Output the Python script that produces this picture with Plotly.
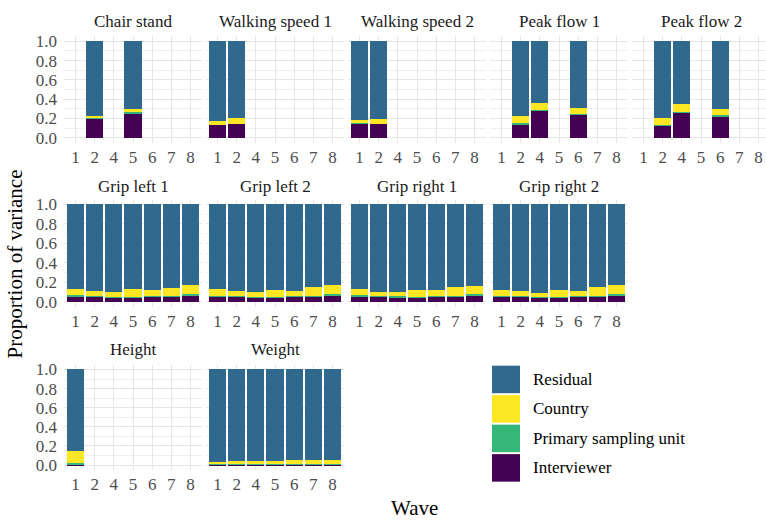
import plotly.graph_objects as go

# Waves shown on every facet (wave 3 was not fielded)
waves = ["1", "2", "4", "5", "6", "7", "8"]

measures = ["Chair stand", "Walking speed 1", "Walking speed 2", "Peak flow 1", "Peak flow 2",
            "Grip left 1", "Grip left 2", "Grip right 1", "Grip right 2",
            "Height", "Weight"]

components = ["Interviewer", "Primary sampling unit", "Country", "Residual"]
comp_colors = {"Interviewer": "#440154", "Primary sampling unit": "#35B779",
               "Country": "#FDE725", "Residual": "#31688E"}

N = None
interviewer = {
    "Chair stand":     [N, .198, N, .248, N, N, N],
    "Walking speed 1": [.130, .140, N, N, N, N, N],
    "Walking speed 2": [.145, .138, N, N, N, N, N],
    "Peak flow 1":     [N, .137, .276, N, .238, N, N],
    "Peak flow 2":     [N, .119, .260, N, .218, N, N],
    "Grip left 1":     [.061, .054, .044, .044, .054, .054, .068],
    "Grip left 2":     [.058, .054, .047, .047, .054, .054, .068],
    "Grip right 1":    [.060, .054, .051, .047, .058, .058, .071],
    "Grip right 2":    [.058, .054, .047, .047, .054, .054, .068],
    "Height":          [.006, N, N, N, N, N, N],
    "Weight":          [.008, .008, .008, .008, .008, .008, .008],
}
psu = {
    "Chair stand":     [N, .010, N, .015, N, N, N],
    "Walking speed 1": [.005, .005, N, N, N, N, N],
    "Walking speed 2": [.004, .005, N, N, N, N, N],
    "Peak flow 1":     [N, .015, .012, N, .012, N, N],
    "Peak flow 2":     [N, .012, .012, N, .015, N, N],
    "Grip left 1":     [.007, .007, .007, .007, .007, .007, .013],
    "Grip left 2":     [.007, .007, .007, .007, .007, .010, .010],
    "Grip right 1":    [.007, .007, .007, .007, .007, .007, .010],
    "Grip right 2":    [.007, .007, .007, .007, .007, .007, .010],
    "Height":          [.012, N, N, N, N, N, N],
    "Weight":          [.008, .008, .008, .008, .008, .008, .008],
}
country = {
    "Chair stand":     [N, .022, N, .030, N, N, N],
    "Walking speed 1": [.035, .055, N, N, N, N, N],
    "Walking speed 2": [.038, .050, N, N, N, N, N],
    "Peak flow 1":     [N, .078, .070, N, .062, N, N],
    "Peak flow 2":     [N, .077, .076, N, .060, N, N],
    "Grip left 1":     [.068, .051, .049, .078, .058, .085, .092],
    "Grip left 2":     [.064, .051, .046, .068, .054, .092, .095],
    "Grip right 1":    [.063, .040, .042, .071, .055, .085, .085],
    "Grip right 2":    [.055, .049, .041, .068, .051, .095, .095],
    "Height":          [.125, N, N, N, N, N, N],
    "Weight":          [.018, .025, .029, .029, .036, .036, .032],
}
residual = {
    "Chair stand":     [N, .770, N, .707, N, N, N],
    "Walking speed 1": [.830, .800, N, N, N, N, N],
    "Walking speed 2": [.813, .807, N, N, N, N, N],
    "Peak flow 1":     [N, .770, .642, N, .688, N, N],
    "Peak flow 2":     [N, .792, .652, N, .707, N, N],
    "Grip left 1":     [.864, .888, .900, .871, .881, .854, .827],
    "Grip left 2":     [.871, .888, .900, .878, .885, .844, .827],
    "Grip right 1":    [.870, .899, .900, .875, .880, .850, .834],
    "Grip right 2":    [.880, .890, .905, .878, .888, .844, .827],
    "Height":          [.857, N, N, N, N, N, N],
    "Weight":          [.966, .959, .955, .955, .948, .948, .952],
}
values = {"Interviewer": interviewer, "Primary sampling unit": psu,
          "Country": country, "Residual": residual}

legend_order = ["Residual", "Country", "Primary sampling unit", "Interviewer"]

# ---- layout geometry (pixels) ----
W, H = 766, 524
col_left = [64, 206, 348, 490, 632]
panel_w = 138
px_per_unit = panel_w / 7.2
# (top, bottom) of each facet row in pixels
row_box = [(33, 141), (199, 308), (367, 474)]
strip_y = [18, 186, 352]

FONT = "Liberation Serif, Times New Roman, Times, serif"
GRID = "#E6E6E6"
GRID_MINOR = "#F0F0F0"


def fx(px):
    return px / W


def fy(py):
    return 1 - py / H


fig = go.Figure()
annotations = []
layout_axes = {}

for i, m in enumerate(measures):
    if i < 5:
        r, c = 0, i
    elif i < 9:
        r, c = 1, i - 5
    else:
        r, c = 2, i - 9
    k = i + 1
    xa = "x" if k == 1 else f"x{k}"
    ya = "y" if k == 1 else f"y{k}"
    xkey = "xaxis" if k == 1 else f"xaxis{k}"
    ykey = "yaxis" if k == 1 else f"yaxis{k}"

    left = col_left[c]
    right = min(left + panel_w, W)
    top, bottom = row_box[r]
    x_hi = -0.6 + (right - left) / px_per_unit

    for comp in components:
        fig.add_trace(go.Bar(
            x=waves, y=values[comp][m], xaxis=xa, yaxis=ya,
            marker=dict(color=comp_colors[comp], line=dict(width=0)),
            width=0.9, showlegend=False, name=comp,
        ))

    layout_axes[xkey] = dict(
        domain=[fx(left), fx(right)], anchor=ya, type="category",
        categoryorder="array", categoryarray=waves, range=[-0.6, x_hi],
        tickmode="array", tickvals=waves, ticktext=waves,
        showgrid=True, gridcolor=GRID, gridwidth=1.3, zeroline=False,
        showline=False, ticks="", ticklabelstandoff=2,
        tickfont=dict(family=FONT, size=17, color="#4D4D4D"),
        fixedrange=True,
    )
    layout_axes[ykey] = dict(
        domain=[fy(bottom), fy(top)], anchor=xa, range=[-0.05, 1.05],
        tickvals=[0, 0.2, 0.4, 0.6, 0.8, 1.0],
        ticktext=["0.0", "0.2", "0.4", "0.6", "0.8", "1.0"],
        showticklabels=(c == 0), showgrid=True, gridcolor=GRID, gridwidth=1.3,
        minor=dict(tickvals=[0.1, 0.3, 0.5, 0.7, 0.9], showgrid=True,
                   gridcolor=GRID_MINOR, gridwidth=0.8),
        zeroline=False, showline=False, ticks="", ticklabelstandoff=6,
        tickfont=dict(family=FONT, size=17, color="#4D4D4D"),
        fixedrange=True,
    )
    annotations.append(dict(
        text=m, x=fx((left + left + panel_w) / 2), y=fy(strip_y[r]),
        xref="paper", yref="paper", xanchor="center", yanchor="middle",
        showarrow=False, font=dict(family=FONT, size=17, color="#1A1A1A"),
    ))

# axis titles
annotations.append(dict(
    text="Proportion of variance", x=fx(15), y=fy(265), xref="paper", yref="paper",
    textangle=-90, showarrow=False, xanchor="center", yanchor="middle",
    font=dict(family=FONT, size=21, color="black"),
))
annotations.append(dict(
    text="Wave", x=fx(414), y=fy(513), xref="paper", yref="paper",
    showarrow=False, xanchor="center", yanchor="middle",
    font=dict(family=FONT, size=21, color="black"),
))

# legend: large square keys with labels
shapes = []
key_top = 368
for j, comp in enumerate(legend_order):
    y0 = key_top + j * 30
    shapes.append(dict(
        type="rect", xref="paper", yref="paper",
        x0=fx(492), x1=fx(520), y0=fy(y0 + 28), y1=fy(y0),
        fillcolor=comp_colors[comp], line=dict(width=0),
    ))
    annotations.append(dict(
        text=comp, x=fx(531), y=fy(y0 + 14), xref="paper", yref="paper",
        xanchor="left", yanchor="middle", showarrow=False,
        font=dict(family=FONT, size=17, color="black"),
    ))

fig.update_layout(
    width=W, height=H, autosize=False,
    margin=dict(l=0, r=0, t=0, b=0),
    barmode="stack", bargap=0.1,
    plot_bgcolor="white", paper_bgcolor="white",
    annotations=annotations, shapes=shapes,
    showlegend=False,
    **layout_axes,
)

fig.write_html("out.html")
